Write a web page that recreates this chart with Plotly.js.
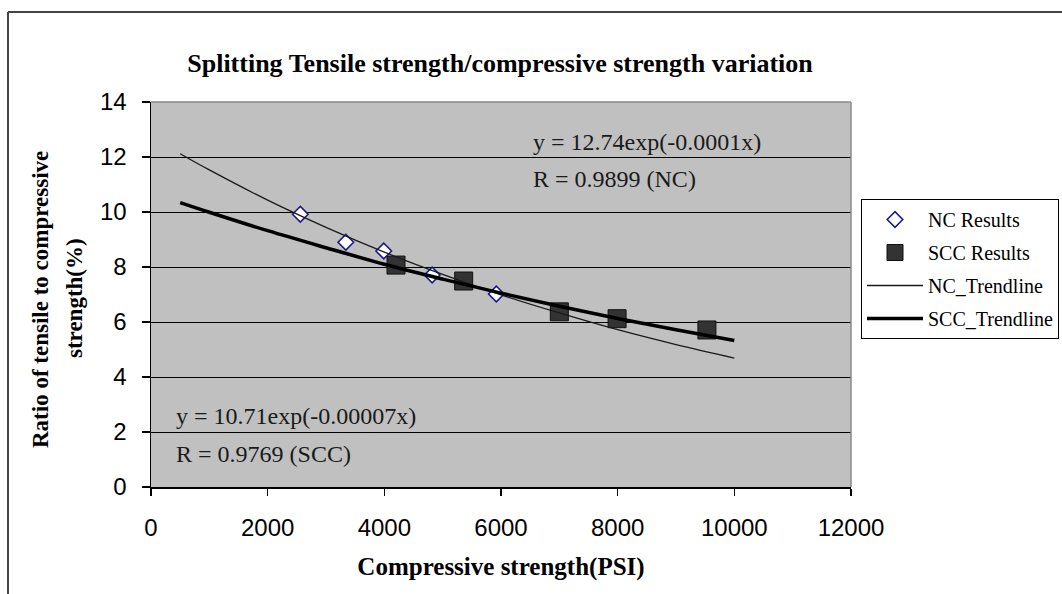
<!DOCTYPE html>
<html>
<head>
<meta charset="utf-8">
<script src="https://cdn.plot.ly/plotly-3.0.1.min.js"></script>
<style>
  html, body { margin: 0; padding: 0; background: #ffffff; }
  #chart { width: 1062px; height: 594px; }
</style>
</head>
<body>
<div id="chart"></div>
<script>
// ---- Data ----
const ncStrength  = [2560, 3340, 3990, 4820, 5920];
const ncRatio     = [9.92, 8.90, 8.58, 7.71, 7.02];

const sccStrength = [4200, 5360, 7000, 7990, 9530];
const sccRatio    = [8.07, 7.49, 6.37, 6.12, 5.71];

const trendStrength = [500, 1000, 2000, 3000, 4000, 5000, 6000, 7000, 8000, 9000, 10000];
const ncTrendRatio  = [12.12, 11.53, 10.43, 9.44, 8.54, 7.73, 6.99, 6.33, 5.72, 5.18, 4.69];
const sccTrendRatio = [10.34, 9.99, 9.32, 8.70, 8.10, 7.56, 7.05, 6.57, 6.13, 5.72, 5.33];

const xTickVals = [0, 2000, 4000, 6000, 8000, 10000, 12000];
const yTickVals = [0, 2, 4, 6, 8, 10, 12, 14];

const chartTitle = 'Splitting Tensile strength/compressive strength variation';
const xTitle = 'Compressive strength(PSI)';
const yTitleLine1 = 'Ratio of tensile to compressive';
const yTitleLine2 = 'strength(%)';
const ncEq = 'y = 12.74exp(-0.0001x)';
const ncR  = 'R = 0.9899 (NC)';
const sccEq = 'y = 10.71exp(-0.00007x)';
const sccR  = 'R = 0.9769 (SCC)';

const serif = 'Liberation Serif, Times New Roman, serif';
const sans  = 'Liberation Sans, Arial, sans-serif';

const traces = [
  {
    x: ncStrength, y: ncRatio, type: 'scatter', mode: 'markers',
    name: 'NC Results', legendgroup: 'a',
    marker: { symbol: 'diamond', size: 12, color: '#ffffff', line: { color: '#1a1a8c', width: 1.6 } }
  },
  {
    x: sccStrength, y: sccRatio, type: 'scatter', mode: 'markers',
    name: 'SCC Results', legendgroup: 'b',
    marker: { symbol: 'square', size: 18, color: '#333333', line: { color: '#111111', width: 1 } }
  },
  {
    x: trendStrength, y: ncTrendRatio, type: 'scatter', mode: 'lines',
    name: 'NC_Trendline', legendgroup: 'c',
    line: { color: '#1a1a1a', width: 1.3, shape: 'spline' }
  },
  {
    x: trendStrength, y: sccTrendRatio, type: 'scatter', mode: 'lines',
    name: 'SCC_Trendline', legendgroup: 'd',
    line: { color: '#000000', width: 3.5, shape: 'spline' }
  }
];

// plot area: x 151..851 px, y 102..487 px
const L = 151, R = 851, T = 102, B = 487;
const px2paperX = p => (p - L) / (R - L);
const px2paperY = p => (B - p) / (B - T);

const layout = {
  width: 1062, height: 594,
  margin: { l: L, r: 1062 - R, t: T, b: 594 - B, pad: 0, autoexpand: false },
  paper_bgcolor: '#ffffff',
  plot_bgcolor: '#c0c0c0',
  showlegend: true,
  title: {
    text: '<b>' + chartTitle + '</b>',
    font: { family: serif, size: 26, color: '#000000' },
    x: 500 / 1062, xanchor: 'center', xref: 'container',
    y: 1 - 63 / 594, yanchor: 'middle', yref: 'container'
  },
  xaxis: {
    range: [0, 12000], tickvals: xTickVals, ticktext: xTickVals.map(String),
    showgrid: false, zeroline: false,
    showline: true, linecolor: '#000000', linewidth: 1.5,
    ticks: 'outside', ticklen: 7, tickwidth: 1.5, tickcolor: '#000000',
    ticklabelstandoff: 12,
    tickfont: { family: sans, size: 24, color: '#000000' },
    title: { text: '<b>' + xTitle + '</b>', font: { family: serif, size: 25, color: '#000000' }, standoff: 17 },
    fixedrange: true
  },
  yaxis: {
    range: [0, 14], tickvals: yTickVals, ticktext: yTickVals.map(String),
    showgrid: true, gridcolor: '#000000', gridwidth: 1,
    zeroline: false,
    showline: true, linecolor: '#000000', linewidth: 1.5,
    ticks: 'outside', ticklen: 8, tickwidth: 1.5, tickcolor: '#000000',
    ticklabelstandoff: 10,
    tickfont: { family: sans, size: 24, color: '#000000' },
    fixedrange: true
  },
  legend: {
    x: px2paperX(861), xanchor: 'left',
    y: px2paperY(199), yanchor: 'top',
    bgcolor: '#ffffff', bordercolor: '#000000', borderwidth: 1,
    font: { family: serif, size: 20, color: '#000000' },
    traceorder: 'grouped', tracegroupgap: 4,
    itemwidth: 56
  },
  shapes: [
    // grey border on top & right of plot area
    { type: 'line', xref: 'paper', yref: 'paper', x0: 0, x1: 1, y0: 1, y1: 1, line: { color: '#8a8a8a', width: 1.5 } },
    { type: 'line', xref: 'paper', yref: 'paper', x0: 1, x1: 1, y0: 0, y1: 1, line: { color: '#8a8a8a', width: 1.5 } },
    // outer frame (top and left edges)
    { type: 'line', xref: 'paper', yref: 'paper', x0: px2paperX(8), x1: px2paperX(1070), y0: px2paperY(12), y1: px2paperY(12), line: { color: '#444444', width: 2 } },
    { type: 'line', xref: 'paper', yref: 'paper', x0: px2paperX(8), x1: px2paperX(8), y0: px2paperY(12), y1: px2paperY(600), line: { color: '#444444', width: 2 } }
  ],
  annotations: [
    { xref: 'x', yref: 'y', x: 6520, y: 12.55, xanchor: 'left', yanchor: 'middle', showarrow: false,
      text: ncEq, font: { family: serif, size: 24, color: '#1a1a1a' } },
    { xref: 'x', yref: 'y', x: 6520, y: 11.2, xanchor: 'left', yanchor: 'middle', showarrow: false,
      text: ncR, font: { family: serif, size: 24, color: '#1a1a1a' } },
    { xref: 'x', yref: 'y', x: 390, y: 2.58, xanchor: 'left', yanchor: 'middle', showarrow: false,
      text: sccEq, font: { family: serif, size: 24, color: '#1a1a1a' } },
    { xref: 'x', yref: 'y', x: 390, y: 1.2, xanchor: 'left', yanchor: 'middle', showarrow: false,
      text: sccR, font: { family: serif, size: 24, color: '#1a1a1a' } },
    { xref: 'paper', yref: 'paper', x: px2paperX(40), y: px2paperY(300), xanchor: 'center', yanchor: 'middle',
      showarrow: false, textangle: -90,
      text: '<b>' + yTitleLine1 + '</b>', font: { family: serif, size: 23, color: '#000000' } },
    { xref: 'paper', yref: 'paper', x: px2paperX(74), y: px2paperY(298), xanchor: 'center', yanchor: 'middle',
      showarrow: false, textangle: -90,
      text: '<b>' + yTitleLine2 + '</b>', font: { family: serif, size: 23, color: '#000000' } }
  ]
};

Plotly.newPlot('chart', traces, layout, { displayModeBar: false, staticPlot: true });
</script>
</body>
</html>
